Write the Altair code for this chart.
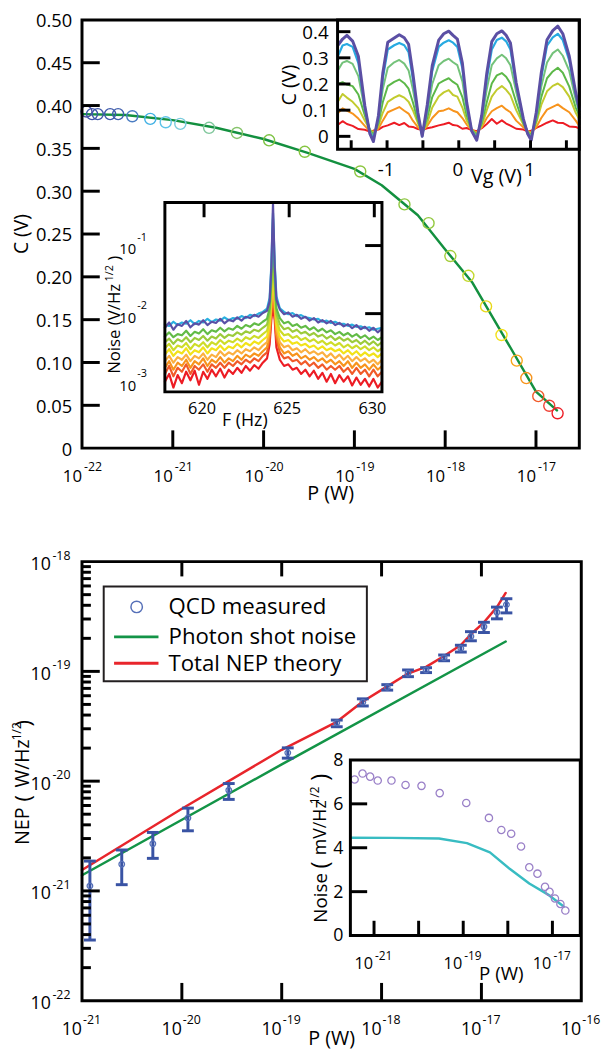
import altair as alt
import pandas as pd

FONT = "Open Sans"
W, H = 602, 1049

# ======================= DATA =======================
# --- top panel: C (V) versus P (W) ---
top_P = [1.12e-22, 1.29e-22, 1.49e-22, 2.04e-22, 2.50e-22, 3.58e-22, 5.65e-22, 8.36e-22,
         1.21e-21, 2.51e-21, 5.09e-21, 1.15e-20, 2.84e-20, 1.16e-19, 3.56e-19, 6.56e-19,
         1.14e-18, 1.80e-18, 2.82e-18, 4.17e-18, 6.14e-18, 7.82e-18, 1.06e-17, 1.40e-17, 1.73e-17]
top_C = [0.393, 0.390, 0.390, 0.390, 0.390, 0.3875, 0.3844, 0.3805, 0.3786, 0.374, 0.368,
         0.3594, 0.346, 0.323, 0.2846, 0.2627, 0.2243, 0.2012, 0.1655, 0.1321, 0.1022,
         0.0818, 0.0607, 0.0495, 0.0407]
top_colors = ["#4b4ea3", "#3f55a8", "#3f58aa", "#3f5aab", "#4160ae", "#4a7cc2", "#3fb0e4",
              "#5ec3e8", "#79cbdc", "#80c79c", "#86c46b", "#7cc242", "#85c540", "#8cc63f",
              "#8dc63f", "#92c83e", "#a4cd39", "#c4d82e", "#e8d81a", "#f3e01b", "#f9a51a",
              "#f7941d", "#f15a29", "#ef4136", "#ed1c24"]
fit_P = [1e-22, 3e-22, 1e-21, 3e-21, 1e-20, 3e-20, 1e-19, 2e-19, 5e-19, 1e-18, 2e-18,
         5e-18, 1e-17, 1.7e-17]
fit_C = [0.390, 0.389, 0.383, 0.374, 0.361, 0.345, 0.326, 0.307, 0.272, 0.232, 0.193,
         0.121, 0.066, 0.044]

# --- top-right inset: C (V) versus Vg (V) ---
vg = [-1.68, -1.62, -1.56, -1.48, -1.40, -1.31, -1.24, -1.19, -1.12, -1.06,
      -0.99, -0.90, -0.83, -0.76, -0.70, -0.64, -0.57, -0.51, -0.44, -0.37,
      -0.28, -0.21, -0.14, -0.08, -0.02, 0.05, 0.11, 0.18, 0.25, 0.32,
      0.39, 0.46, 0.53, 0.60, 0.66, 0.72, 0.80, 0.90, 0.96, 1.01,
      1.08, 1.15, 1.23, 1.31, 1.38, 1.45, 1.54, 1.63, 1.68]
vg_red = [0.045, 0.058, 0.047, 0.04, 0.028, 0.025, 0.018, 0.022, 0.026, 0.036,
          0.042, 0.052, 0.043, 0.051, 0.038, 0.036, 0.028, 0.025, 0.031, 0.035,
          0.042, 0.046, 0.052, 0.043, 0.041, 0.029, 0.032, 0.024, 0.02, 0.031,
          0.047, 0.066, 0.048, 0.061, 0.049, 0.041, 0.029, 0.026, 0.019, 0.021,
          0.032, 0.041, 0.052, 0.061, 0.052, 0.051, 0.038, 0.036, 0.03]
vg_orange = [0.09, 0.107, 0.098, 0.087, 0.068, 0.04, 0.02, 0.015, 0.03, 0.06,
             0.092, 0.103, 0.112, 0.098, 0.087, 0.06, 0.035, 0.02, 0.04, 0.07,
             0.096, 0.099, 0.107, 0.098, 0.092, 0.07, 0.045, 0.025, 0.015, 0.035,
             0.07, 0.096, 0.108, 0.117, 0.103, 0.092, 0.06, 0.035, 0.02, 0.015,
             0.035, 0.07, 0.102, 0.113, 0.122, 0.108, 0.092, 0.06, 0.04]
vg_ygreen = [0.135, 0.162, 0.148, 0.132, 0.108, 0.06, 0.025, 0.015, 0.04, 0.09,
             0.132, 0.148, 0.157, 0.148, 0.132, 0.10, 0.05, 0.015, 0.05, 0.11,
             0.152, 0.168, 0.177, 0.158, 0.152, 0.11, 0.06, 0.025, 0.01, 0.04,
             0.10, 0.152, 0.178, 0.192, 0.178, 0.157, 0.10, 0.045, 0.02, 0.01,
             0.05, 0.12, 0.172, 0.193, 0.202, 0.188, 0.152, 0.09, 0.065]
vg_green = [0.20, 0.207, 0.198, 0.192, 0.16, 0.08, 0.025, 0.005, 0.05, 0.13,
            0.192, 0.208, 0.217, 0.203, 0.182, 0.13, 0.06, 0.01, 0.07, 0.15,
            0.202, 0.213, 0.222, 0.208, 0.197, 0.15, 0.08, 0.025, 0.005, 0.05,
            0.13, 0.202, 0.233, 0.242, 0.228, 0.202, 0.13, 0.05, 0.015, 0.005,
            0.06, 0.15, 0.222, 0.248, 0.262, 0.243, 0.19, 0.11, 0.08]
vg_lgreen = [0.255, 0.282, 0.288, 0.277, 0.23, 0.10, 0.02, 0.0, 0.06, 0.18,
             0.262, 0.283, 0.292, 0.278, 0.252, 0.18, 0.075, 0.005, 0.09, 0.20,
             0.272, 0.288, 0.297, 0.283, 0.272, 0.21, 0.10, 0.025, 0.0, 0.06,
             0.18, 0.272, 0.298, 0.312, 0.298, 0.272, 0.17, 0.06, 0.015, 0.0,
             0.07, 0.19, 0.282, 0.318, 0.332, 0.308, 0.25, 0.14, 0.09]
vg_lblue = [0.31, 0.347, 0.353, 0.342, 0.28, 0.11, 0.015, -0.01, 0.07, 0.22,
            0.332, 0.348, 0.357, 0.348, 0.322, 0.22, 0.085, 0.0, 0.11, 0.25,
            0.342, 0.358, 0.367, 0.358, 0.342, 0.26, 0.12, 0.02, -0.01, 0.075,
            0.22, 0.332, 0.368, 0.377, 0.363, 0.332, 0.195, 0.065, 0.01, -0.01,
            0.085, 0.225, 0.347, 0.378, 0.392, 0.368, 0.29, 0.16, 0.10]
vg_purple = [0.35, 0.372, 0.386, 0.364, 0.306, 0.117, 0.01, -0.02, 0.08, 0.24,
             0.36, 0.376, 0.388, 0.377, 0.352, 0.24, 0.09, 0.0, 0.12, 0.27,
             0.368, 0.392, 0.402, 0.386, 0.372, 0.28, 0.13, 0.02, -0.015, 0.08,
             0.24, 0.362, 0.392, 0.403, 0.386, 0.357, 0.205, 0.067, 0.01, -0.015,
             0.092, 0.243, 0.369, 0.404, 0.421, 0.392, 0.306, 0.167, 0.105]
vg_series = [(vg_red, "#ed1c24", 2), (vg_orange, "#f7941d", 2), (vg_ygreen, "#c2cb2e", 2),
             (vg_green, "#5cb848", 2), (vg_lgreen, "#74c27a", 2), (vg_lblue, "#27aae1", 2.2),
             (vg_purple, "#5b4fa4", 3)]

# --- noise spectra inset: Noise (in 1e-3 V/Hz^1/2) versus F (Hz) ---
spec_F = [617.70, 617.95, 618.20, 618.45, 618.70, 618.95, 619.20, 619.45, 619.70, 619.95,
          620.20, 620.45, 620.70, 620.95, 621.20, 621.45, 621.70, 621.95, 622.20, 622.45,
          622.70, 622.95, 623.20, 623.45, 623.70,
          623.85, 623.95, 624.05, 624.15, 624.25,
          624.45, 624.70, 624.95, 625.20, 625.45, 625.70, 625.95, 626.20, 626.45, 626.70,
          626.95, 627.20, 627.45, 627.70, 627.95, 628.20, 628.45, 628.70, 628.95, 629.20,
          629.45, 629.70, 629.95, 630.20, 630.45]
spec_red = [1.0, 1.3, 0.82, 1.25, 0.95, 1.4, 1.05, 1.45, 0.9, 1.4,
            1.1, 1.5, 1.2, 1.55, 1.15, 1.5, 1.3, 1.6, 1.35, 1.7,
            1.45, 1.75, 1.55, 1.9, 2.2,
            3.5, 8, 13, 8, 3.2,
            2.1, 1.7, 1.8, 1.5, 1.6, 1.3, 1.5, 1.2, 1.45, 1.1,
            1.35, 1.0, 1.3, 0.95, 1.25, 1.0, 1.2, 0.88, 1.15, 0.9,
            1.1, 0.85, 1.1, 0.82, 1.0]
spec_redorange = [1.3, 1.7, 1.2, 1.6, 1.4, 1.8, 1.3, 1.7, 1.5, 1.8,
                  1.4, 1.8, 1.6, 1.9, 1.6, 1.9, 1.7, 2.0, 1.8, 2.1,
                  1.9, 2.2, 2.0, 2.4, 2.7,
                  4.2, 10, 18, 10, 4.2,
                  2.7, 2.2, 2.3, 2.0, 2.1, 1.8, 2.0, 1.7, 1.9, 1.6,
                  1.8, 1.5, 1.7, 1.5, 1.7, 1.4, 1.6, 1.3, 1.6, 1.3,
                  1.5, 1.2, 1.5, 1.2, 1.4]
spec_orange = [1.6, 2.0, 1.5, 1.9, 1.7, 2.1, 1.6, 2.0, 1.8, 2.2,
               1.7, 2.1, 1.9, 2.3, 1.9, 2.2, 2.0, 2.4, 2.1, 2.5,
               2.3, 2.6, 2.4, 2.8, 3.2,
               5, 12, 26, 12, 5,
               3.2, 2.6, 2.8, 2.4, 2.6, 2.2, 2.4, 2.1, 2.3, 2.0,
               2.2, 1.9, 2.1, 1.8, 2.0, 1.7, 2.0, 1.6, 1.9, 1.6,
               1.8, 1.5, 1.8, 1.5, 1.7]
spec_lorange = [2.0, 2.4, 1.9, 2.3, 2.1, 2.5, 2.0, 2.4, 2.2, 2.6,
                2.1, 2.5, 2.3, 2.8, 2.4, 2.7, 2.5, 2.9, 2.6, 3.0,
                2.8, 3.2, 2.9, 3.4, 3.8,
                6, 14, 40, 14, 6,
                3.8, 3.2, 3.4, 2.9, 3.1, 2.7, 3.0, 2.6, 2.8, 2.5,
                2.7, 2.3, 2.6, 2.2, 2.5, 2.1, 2.4, 2.0, 2.3, 2.0,
                2.2, 1.9, 2.1, 1.8, 2.1]
spec_yellow = [2.5, 3.0, 2.4, 2.8, 2.6, 3.1, 2.5, 2.9, 2.7, 3.2,
               2.6, 3.1, 2.9, 3.4, 2.9, 3.3, 3.1, 3.6, 3.2, 3.7,
               3.4, 3.9, 3.6, 4.1, 4.6,
               7, 17, 70, 17, 7,
               4.6, 3.9, 4.1, 3.6, 3.8, 3.4, 3.6, 3.2, 3.4, 3.0,
               3.3, 2.9, 3.1, 2.8, 3.0, 2.6, 2.9, 2.5, 2.8, 2.4,
               2.7, 2.4, 2.6, 2.3, 2.6]
spec_ygreen = [3.1, 3.6, 2.9, 3.4, 3.2, 3.7, 3.0, 3.6, 3.3, 3.8,
               3.2, 3.8, 3.5, 4.1, 3.6, 4.0, 3.8, 4.3, 3.9, 4.5,
               4.2, 4.7, 4.4, 5.0, 5.6,
               8, 21, 120, 22, 8,
               5.7, 4.8, 5.0, 4.4, 4.7, 4.1, 4.4, 3.9, 4.2, 3.7,
               4.0, 3.5, 3.8, 3.4, 3.7, 3.2, 3.5, 3.1, 3.4, 3.0,
               3.3, 2.9, 3.2, 2.8, 3.1]
spec_lgreen = [3.8, 4.3, 3.6, 4.2, 3.9, 4.5, 3.8, 4.4, 4.1, 4.7,
               4.0, 4.6, 4.3, 5.0, 4.4, 4.9, 4.7, 5.3, 4.9, 5.5,
               5.2, 5.8, 5.5, 6.2, 6.9,
               10, 26, 180, 28, 10,
               7.0, 5.9, 6.2, 5.4, 5.8, 5.1, 5.4, 4.8, 5.2, 4.6,
               4.9, 4.3, 4.7, 4.1, 4.5, 4.0, 4.3, 3.8, 4.1, 3.6,
               4.0, 3.5, 3.9, 3.4, 3.8]
spec_green = [4.6, 5.3, 4.5, 5.0, 4.8, 5.6, 4.7, 5.4, 5.1, 5.9,
              5.0, 5.7, 5.4, 6.2, 5.5, 6.1, 5.8, 6.6, 6.0, 6.8,
              6.4, 7.2, 6.8, 7.6, 8.4,
              12, 32, 250, 35, 12,
              8.6, 7.2, 7.6, 6.6, 7.0, 6.2, 6.6, 5.8, 6.3, 5.5,
              6.0, 5.3, 5.7, 5.0, 5.4, 4.8, 5.2, 4.6, 5.0, 4.4,
              4.8, 4.2, 4.6, 4.1, 4.5]
spec_lblue = [7.0, 6.6, 7.6, 6.8, 7.4, 7.1, 8.0, 7.0, 7.8, 7.4,
              8.4, 7.5, 8.2, 7.9, 8.8, 8.0, 8.6, 8.4, 9.2, 8.6,
              9.6, 9.2, 10.0, 10.6, 11.8,
              17, 50, 300, 55, 18,
              12.0, 10.6, 9.8, 10.2, 9.2, 9.5, 8.8, 8.6, 8.2, 8.4,
              7.6, 7.9, 7.3, 7.6, 7.0, 7.1, 6.6, 6.9, 6.4, 6.5,
              6.1, 6.3, 5.8, 6.0, 6.2]
spec_purple = [6.2, 7.4, 5.8, 7.0, 6.6, 7.8, 6.3, 7.2, 6.9, 8.0,
               6.8, 7.6, 7.3, 8.4, 7.2, 8.1, 7.7, 8.8, 7.9, 9.0,
               8.6, 9.6, 9.0, 10.2, 11.0,
               15, 45, 420, 50, 16,
               11.5, 9.8, 10.4, 9.0, 9.6, 8.4, 9.0, 7.9, 8.6, 7.4,
               8.0, 7.2, 7.8, 6.8, 7.3, 6.5, 7.0, 6.1, 6.8, 5.9,
               6.4, 5.6, 6.2, 5.3, 6.0]
spec_series = [(spec_red, "#ed1c24"), (spec_redorange, "#f15a29"), (spec_orange, "#f7941d"),
               (spec_lorange, "#fbb040"), (spec_yellow, "#f2e21a"), (spec_ygreen, "#cddc29"),
               (spec_lgreen, "#9ccb3b"), (spec_green, "#62bb46"), (spec_lblue, "#29b0e0"),
               (spec_purple, "#5a50a6")]

# --- bottom panel: NEP versus P ---
nep_P = [1.20e-21, 2.50e-21, 5.12e-21, 1.15e-20, 2.95e-20, 1.15e-19, 3.56e-19, 6.49e-19,
         1.14e-18, 1.84e-18, 2.79e-18, 4.23e-18, 6.22e-18, 7.85e-18, 1.06e-17, 1.43e-17, 1.78e-17]
nep = [1.11e-21, 1.75e-21, 2.69e-21, 4.62e-21, 8.26e-21, 1.81e-20, 3.40e-20, 5.24e-20,
       7.15e-20, 9.62e-20, 1.03e-19, 1.33e-19, 1.62e-19, 2.08e-19, 2.55e-19, 3.46e-19, 4.05e-19]
nep_hi = [1.87e-21, 2.36e-21, 3.41e-21, 5.68e-21, 9.51e-21, 2.01e-20, 3.60e-20, 5.62e-20,
          7.57e-20, 1.03e-19, 1.08e-19, 1.41e-19, 1.73e-19, 2.30e-19, 2.80e-19, 3.85e-19, 4.59e-19]
nep_lo = [3.57e-22, 1.14e-21, 1.98e-21, 3.53e-21, 6.82e-21, 1.62e-20, 3.13e-20, 4.84e-20,
          6.75e-20, 8.95e-20, 9.75e-20, 1.25e-19, 1.50e-19, 1.90e-19, 2.26e-19, 3.01e-19, 3.41e-19]
shot_P = [1e-21, 1e-19, 1.75e-17]
shot = [1.39e-21, 1.42e-20, 1.87e-19]
tot_P = [1e-21, 1e-20, 1e-19, 3.56e-19, 6.49e-19, 1.14e-18, 1.84e-18, 2.79e-18, 4.23e-18,
         6.22e-18, 7.85e-18, 1.06e-17, 1.43e-17, 1.75e-17]
tot = [1.55e-21, 5.6e-21, 1.93e-20, 3.47e-20, 5.31e-20, 7.30e-20, 9.55e-20, 1.10e-19, 1.38e-19,
       1.74e-19, 2.18e-19, 2.80e-19, 3.85e-19, 5.18e-19]

# --- bottom inset: Noise (mV/Hz^1/2) versus P ---
ins_P = [3.67e-22, 5.52e-22, 8.17e-22, 1.21e-21, 2.46e-21, 5.09e-21, 1.16e-20, 2.97e-20,
         1.17e-19, 3.77e-19, 7.15e-19, 1.19e-18, 1.98e-18, 3.03e-18, 4.62e-18, 6.83e-18,
         8.62e-18, 1.14e-17, 1.51e-17, 1.95e-17]
ins_N = [7.11, 7.38, 7.24, 7.06, 7.06, 6.86, 6.82, 6.49, 6.04, 5.36, 4.81, 4.64, 4.06, 3.11,
         2.82, 2.22, 1.99, 1.69, 1.44, 1.14]
cyan_P = [2.95e-22, 2.46e-21, 2.86e-20, 1.21e-19, 3.97e-19, 1.10e-18, 3.03e-18, 8.37e-18, 1.79e-17]
cyan_N = [4.46, 4.45, 4.42, 4.21, 3.79, 3.04, 2.37, 1.84, 1.32]

# --- tick values / labels ---
A_yticks = [0.05, 0.10, 0.15, 0.20, 0.25, 0.30, 0.35, 0.40, 0.45]
A_ylab_v = [0, 0.05, 0.10, 0.15, 0.20, 0.25, 0.30, 0.35, 0.40, 0.45, 0.50]
A_ylab_t = ["0", "0.05", "0.10", "0.15", "0.20", "0.25", "0.30", "0.35", "0.40", "0.45", "0.50"]
A_xticks = [1e-21, 1e-20, 1e-19, 1e-18, 1e-17]
A_xlab_v = [1e-22, 1e-21, 1e-20, 1e-19, 1e-18, 1e-17]
A_xlab_e = ["-22", "-21", "-20", "-19", "-18", "-17"]
B_yticks = [0, 0.1, 0.2, 0.3, 0.4]
B_ylab_t = ["0", "0.1", "0.2", "0.3", "0.4"]
B_xticks = [-1.5, -1.0, -0.5, 0.0, 0.5, 1.0, 1.5]
B_xlab_v = [-1, 0, 1]
B_xlab_t = ["-1", "0", "1"]
C_xticks = [620, 625, 630]
C_xlab_t = ["620", "625", "630"]
C_yticks = [1e-1, 1e-2]
C_ylab_v = [1e-1, 1e-2, 1e-3]
C_ylab_e = ["-1", "-2", "-3"]
D_xticks = [1e-20, 1e-19, 1e-18, 1e-17]
D_xlab_v = [1e-21, 1e-20, 1e-19, 1e-18, 1e-17, 1e-16]
D_xlab_e = ["-21", "-20", "-19", "-18", "-17", "-16"]
D_ymajor = [1e-21, 1e-20, 1e-19]
D_yminor = [m * 10.0 ** e for e in (-22, -21, -20, -19) for m in range(2, 10)]
D_ylab_v = [1e-18, 1e-19, 1e-20, 1e-21, 1e-22]
D_ylab_e = ["-18", "-19", "-20", "-21", "-22"]
E_yticks = [2, 4, 6]
E_ylab_v = [0, 2, 4, 6, 8]
E_ylab_t = ["0", "2", "4", "6", "8"]
E_xticks = [1e-21, 1e-20, 1e-19, 1e-18, 1e-17]
E_xlab_v = [1e-21, 1e-19, 1e-17]
E_xlab_e = ["-21", "-19", "-17"]

# ======================= SCALES (panel placement) =======================
SC = {
    "A": {"x": dict(type="log", domain=[1e-22, 3.0e-17], range=[75, 579]),
          "y": dict(type="linear", domain=[0, 0.5], range=[439, 5])},
    "B": {"x": dict(type="linear", domain=[-1.69, 1.68], range=[334, 579]),
          "y": dict(type="linear", domain=[-0.049, 0.445], range=[136, 5])},
    "C": {"x": dict(type="linear", domain=[617.7, 630.45], range=[159, 379]),
          "y": dict(type="log", domain=[7.08e-4, 0.43], range=[382, 190])},
    "D": {"x": dict(type="log", domain=[1e-21, 1e-16], range=[75, 581]),
          "y": dict(type="log", domain=[1e-22, 1e-18], range=[999, 554])},
    "E": {"x": dict(type="log", domain=[2.95e-22, 4.22e-17], range=[347, 580]),
          "y": dict(type="linear", domain=[0, 8], range=[933, 755])},
}


def S(k, a):
    d = dict(SC[k][a])
    d["nice"] = False
    if d["type"] == "linear":
        d["zero"] = False
    return alt.Scale(**d)


def X(k, f):
    return alt.X(f, type="quantitative", scale=S(k, "x"), axis=None)


def Y(k, f):
    return alt.Y(f, type="quantitative", scale=S(k, "y"), axis=None)


layers = []


def line(k, xs, ys, color, width):
    df = pd.DataFrame({"x": xs, "y": ys})
    layers.append(alt.Chart(df).mark_line(color=color, strokeWidth=width, strokeJoin="round",
                                          strokeCap="round")
                  .encode(x=X(k, "x"), y=Y(k, "y")))


def points(k, xs, ys, colors, size, sw):
    df = pd.DataFrame({"x": xs, "y": ys, "c": colors})
    layers.append(alt.Chart(df).mark_point(shape="circle", filled=False, size=size,
                                           strokeWidth=sw, opacity=1)
                  .encode(x=X(k, "x"), y=Y(k, "y"), stroke=alt.Stroke("c:N", scale=None)))


def frame(k, sw=3):
    dx = SC[k]["x"]["domain"]
    dy = SC[k]["y"]["domain"]
    df = pd.DataFrame({"x0": [dx[0]], "x1": [dx[1]], "y0": [dy[0]], "y1": [dy[1]]})
    layers.append(alt.Chart(df).mark_rect(fillOpacity=0, stroke="black", strokeWidth=sw)
                  .encode(x=X(k, "x0"), x2="x1:Q", y=Y(k, "y0"), y2="y1:Q"))


def xticks(k, vals, length, top=False, sw=3):
    dy = SC[k]["y"]["domain"]
    base = dy[1] if top else dy[0]
    df = pd.DataFrame({"v": vals, "b": [base] * len(vals)})
    off = length if top else -length
    layers.append(alt.Chart(df).mark_rule(color="black", strokeWidth=sw, y2Offset=off)
                  .encode(x=X(k, "v"), y=Y(k, "b"), y2="b:Q"))


def yticks(k, vals, length, right=False, sw=3):
    dx = SC[k]["x"]["domain"]
    base = dx[1] if right else dx[0]
    df = pd.DataFrame({"v": vals, "b": [base] * len(vals)})
    off = -length if right else length
    layers.append(alt.Chart(df).mark_rule(color="black", strokeWidth=sw, x2Offset=off)
                  .encode(y=Y(k, "v"), x=X(k, "b"), x2="b:Q"))


def xlabels(k, vals, texts, size, dx, dy, align="center"):
    base = SC[k]["y"]["domain"][0]
    df = pd.DataFrame({"v": vals, "b": [base] * len(vals), "t": texts})
    layers.append(alt.Chart(df).mark_text(font=FONT, fontSize=size, dx=dx, dy=dy, align=align,
                                          baseline="middle", color="black")
                  .encode(x=X(k, "v"), y=Y(k, "b"), text="t:N"))


def ylabels(k, vals, texts, size, dx, dy, align="right"):
    base = SC[k]["x"]["domain"][0]
    df = pd.DataFrame({"v": vals, "b": [base] * len(vals), "t": texts})
    layers.append(alt.Chart(df).mark_text(font=FONT, fontSize=size, dx=dx, dy=dy, align=align,
                                          baseline="middle", color="black")
                  .encode(y=Y(k, "v"), x=X(k, "b"), text="t:N"))


def ptext(x, y, t, size, angle=0, align="center", color="black"):
    df = pd.DataFrame({"t": [t]})
    layers.append(alt.Chart(df).mark_text(font=FONT, fontSize=size, angle=angle, align=align,
                                          baseline="middle", color=color)
                  .encode(x=alt.value(x), y=alt.value(y), text="t:N"))


# ======================= TOP PANEL =======================
line("A", fit_P, fit_C, "#13903f", 2.5)
points("A", top_P, top_C, top_colors, 125, 1.4)
frame("A")
yticks("A", A_yticks, 18)
xticks("A", A_xticks, 18)
ylabels("A", A_ylab_v, A_ylab_t, 18.5, -10, 1.5)
xlabels("A", A_xlab_v, ["10"] * len(A_xlab_v), 17, 0, 29, "right")
xlabels("A", A_xlab_v, A_xlab_e, 12.5, 2, 19, "left")
ptext(14.5, 222, "C (V)", 19.5, angle=270)
ptext(327, 486, "P (W)", 20)

# top-right inset
for ys, col, w in vg_series:
    line("B", vg, ys, col, w)
frame("B")
yticks("B", B_yticks, 13)
xticks("B", B_xticks, 9)
ylabels("B", B_yticks, B_ylab_t, 19, -9, 1)
xlabels("B", B_xlab_v, B_xlab_t, 19, -1, 21)
ptext(285.5, 71, "C (V)", 20, angle=270)
ptext(495, 164, "Vg (V)", 20)

# noise-spectrum inset
for ys, col in spec_series:
    line("C", spec_F, [v / 1000.0 for v in ys], col, 2.2)
frame("C")
xticks("C", C_xticks, 15, top=True)
yticks("C", C_yticks, 17, right=True)
xlabels("C", C_xticks, C_xlab_t, 16.5, -2, 17)
ylabels("C", C_ylab_v, ["10"] * 3, 15, -29, 4, "right")
ylabels("C", C_ylab_v, C_ylab_e, 11, -28, -8, "left")
ptext(240, 412, "F (Hz)", 18)
ptext(108.7, 363.7, "Noise (V/Hz", 17, angle=270, align="left")
ptext(103, 270, "1/2", 11, angle=270, align="left")
ptext(108.7, 249, ")", 17, angle=270, align="left")

# ======================= BOTTOM PANEL =======================
line("D", shot_P, shot, "#139447", 2.5)
line("D", tot_P, tot, "#e8252b", 2.5)
err = pd.DataFrame({"x": nep_P, "lo": nep_lo, "hi": nep_hi})
layers.append(alt.Chart(err).mark_rule(color="#3953a4", strokeWidth=3)
              .encode(x=X("D", "x"), y=Y("D", "lo"), y2="hi:Q"))
caps = pd.DataFrame({"x": nep_P + nep_P, "y": nep_lo + nep_hi})
layers.append(alt.Chart(caps).mark_rule(color="#3953a4", strokeWidth=3, xOffset=-6, x2Offset=6)
              .encode(x=X("D", "x"), x2="x:Q", y=Y("D", "y")))
points("D", nep_P, nep, ["#5670b8"] * len(nep), 32, 1.3)
frame("D")
yticks("D", D_ymajor, 18)
yticks("D", D_yminor, 9)
xticks("D", D_xticks, 18)
xticks("D", D_xticks, 15, top=True)
ylabels("D", D_ylab_v, ["10"] * len(D_ylab_v), 18, -31.5, 3.5, "right")
ylabels("D", D_ylab_v, D_ylab_e, 12.5, -30, -6, "left")
xlabels("D", D_xlab_v, ["10"] * len(D_xlab_v), 18, 0, 29.5, "right")
xlabels("D", D_xlab_v, D_xlab_e, 12.5, 1, 20, "left")
ptext(328, 1038, "P (W)", 20)
ptext(15.4, 841.2, "NEP", 20, angle=270, align="left")
ptext(16.5, 797, "(", 22, angle=270, align="left")
ptext(15.4, 783, "W/Hz", 19.5, angle=270, align="left")
ptext(9, 735, "1/2", 12, angle=270, align="left")
ptext(16.5, 721, ")", 22, angle=270, align="left")

# legend
leg_box = pd.DataFrame({"t": [""]})
layers.append(alt.Chart(leg_box).mark_rect(fill="white", stroke="#231f20", strokeWidth=2)
              .encode(x=alt.value(97), x2=alt.value(363.7), y=alt.value(579.3), y2=alt.value(675.3)))
layers.append(alt.Chart(leg_box).mark_point(shape="circle", filled=False, size=135, strokeWidth=1.5,
                                            opacity=1, color="#5670b8")
              .encode(x=alt.value(130.4), y=alt.value(599.9)))
layers.append(alt.Chart(leg_box).mark_rule(color="#139447", strokeWidth=3)
              .encode(x=alt.value(107.5), x2=alt.value(152.5), y=alt.value(630.3)))
layers.append(alt.Chart(leg_box).mark_rule(color="#e8252b", strokeWidth=3)
              .encode(x=alt.value(107.5), x2=alt.value(152.5), y=alt.value(657)))
ptext(162.7, 600.5, "QCD measured", 22.5, align="left")
ptext(162.7, 630.5, "Photon shot noise", 22.5, align="left")
ptext(162.7, 657.5, "Total NEP theory", 22.5, align="left")

# bottom inset
inset_bg = pd.DataFrame({"x0": [SC["E"]["x"]["domain"][0]], "x1": [SC["E"]["x"]["domain"][1]],
                         "y0": [0], "y1": [8]})
layers.append(alt.Chart(inset_bg).mark_rect(fill="white")
              .encode(x=X("E", "x0"), x2="x1:Q", y=Y("E", "y0"), y2="y1:Q"))
line("E", cyan_P, cyan_N, "#38bcc2", 2.5)
points("E", ins_P, ins_N, ["#9a80c8"] * len(ins_P), 55, 1.3)
frame("E")
yticks("E", E_yticks, 17)
xticks("E", E_xticks, 15)
ylabels("E", E_ylab_v, E_ylab_t, 18, -7, 1)
xlabels("E", E_xlab_v, ["10"] * len(E_xlab_v), 16.5, -1, 29, "right")
xlabels("E", E_xlab_v, E_xlab_e, 12, 1, 21, "left")
ptext(500, 972, "P (W)", 19)
ptext(317.5, 919.9, "Noise", 19, angle=270, align="left")
ptext(317, 865, "(", 24, angle=270, align="left")
ptext(317.5, 851.5, "mV/Hz", 18, angle=270, align="left")
ptext(310.8, 800, "1/2", 12, angle=270, align="left")
ptext(317, 776, ")", 24, angle=270, align="left")

chart = (alt.layer(*layers)
         .resolve_scale(x="independent", y="independent")
         .properties(width=W, height=H, autosize=alt.AutoSizeParams(type="none"), padding=0)
         .configure_view(stroke="transparent"))

chart.save("out.html", embed_options={"renderer": "svg", "actions": False})
